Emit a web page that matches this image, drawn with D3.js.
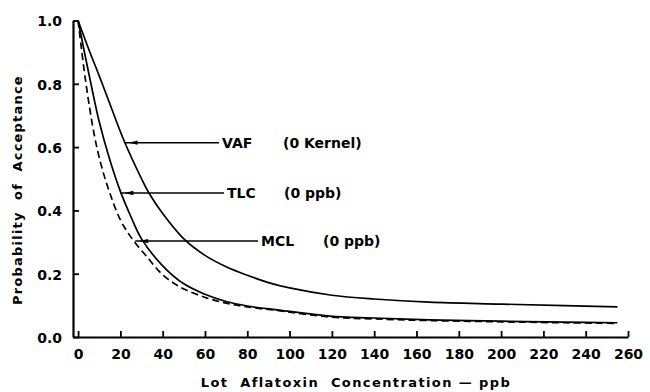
<!DOCTYPE html>
<html>
<head>
<meta charset="utf-8">
<script src="https://cdn.jsdelivr.net/npm/d3@7"></script>
<style>
  body { margin: 0; background: #fff; }
  svg text { font-family: "DejaVu Sans", sans-serif; font-weight: bold; fill: #000; white-space: pre; }
</style>
</head>
<body>
<div id="chart"></div>
<script>
// values (x = ppb, y = probability of acceptance)
const vafX = [0, 5, 10, 15, 22, 30, 33.5, 40, 50, 60, 70, 80, 90, 100, 120, 140, 166, 200, 230, 255];
const vafY = [1.0, 0.91, 0.825, 0.737, 0.616, 0.5, 0.455, 0.39, 0.31, 0.258, 0.222, 0.195, 0.172, 0.155, 0.132, 0.12, 0.11, 0.104, 0.099, 0.095];

const tlcX = [0, 5, 10, 15, 20, 25, 30, 40, 50, 60, 70, 80, 95, 119, 140, 166, 200, 230, 255];
const tlcY = [1.0, 0.835, 0.68, 0.56, 0.46, 0.38, 0.31, 0.225, 0.168, 0.135, 0.112, 0.098, 0.085, 0.066, 0.06, 0.054, 0.05, 0.047, 0.045];

const mclX = [0, 3.5, 7.9, 11.3, 15, 20, 26, 33, 38, 43.5, 50, 61, 70, 80, 95, 119, 140, 166, 200, 230, 255];
const mclY = [1.0, 0.812, 0.63, 0.534, 0.455, 0.37, 0.306, 0.25, 0.21, 0.178, 0.152, 0.123, 0.107, 0.095, 0.083, 0.063, 0.057, 0.052, 0.048, 0.045, 0.043];

const xTicks = d3.range(0, 261, 20);
const yTicks = [0, 0.2, 0.4, 0.6, 0.8, 1.0];

// label callouts: where the arrow touches the curve (data coords) and the text
const callouts = [
  { name: 'VAF', note: '(0 Kernel)', x: 22, y: 0.614, lineEnd: 219, noteX: 283 },
  { name: 'TLC', note: '(0 ppb)', x: 20, y: 0.455, lineEnd: 224, noteX: 284 },
  { name: 'MCL', note: '(0 ppb)', x: 27, y: 0.303, lineEnd: 258, noteX: 323 }
];

const width = 650, height = 392;

const svg = d3.select('#chart').append('svg')
  .attr('width', width)
  .attr('height', height);

const x = d3.scaleLinear().domain([-2.4, 260]).range([73, 628]);
const y = d3.scaleLinear().domain([0, 1]).range([337, 20.5]);

// axes, ticks point inward
const yAxis = d3.axisLeft(y)
  .tickValues(yTicks)
  .tickFormat(d3.format('.1f'))
  .tickSizeInner(-6)
  .tickSizeOuter(0)
  .tickPadding(11);

const xAxis = d3.axisBottom(x)
  .tickValues(xTicks)
  .tickFormat(d3.format('d'))
  .tickSizeInner(-6)
  .tickSizeOuter(0)
  .tickPadding(15);

const gx = svg.append('g')
  .attr('transform', `translate(0,${y(0)})`)
  .call(xAxis);

const gy = svg.append('g')
  .attr('transform', `translate(${x.range()[0]},0)`)
  .call(yAxis);

[gx, gy].forEach(g => {
  g.select('.domain').attr('stroke', '#000').attr('stroke-width', 2.2);
  g.selectAll('.tick line').attr('stroke', '#000').attr('stroke-width', 1.8);
  g.selectAll('.tick text')
    .attr('font-size', 14)
    .attr('font-family', '"DejaVu Sans", sans-serif')
    .attr('font-weight', 'bold')
    .attr('fill', '#000');
});
gy.selectAll('.tick text').attr('dy', '0.38em');
gx.selectAll('.tick text').attr('dy', '0.5em');

// curves
const line = d3.line()
  .x(d => x(d[0]))
  .y(d => y(d[1]))
  .curve(d3.curveCatmullRom.alpha(0.5));

const series = [
  { xs: vafX, ys: vafY, dash: null },
  { xs: tlcX, ys: tlcY, dash: null },
  { xs: mclX, ys: mclY, dash: '7,4' }
];

svg.append('g')
  .selectAll('path')
  .data(series)
  .join('path')
  .attr('d', s => line(s.xs.map((v, i) => [v, s.ys[i]])))
  .attr('fill', 'none')
  .attr('stroke', '#000')
  .attr('stroke-width', 1.7)
  .attr('stroke-dasharray', s => s.dash);

// callout lines, arrowheads and labels
const co = svg.append('g')
  .selectAll('g')
  .data(callouts)
  .join('g');

co.append('line')
  .attr('x1', d => x(d.x))
  .attr('x2', d => d.lineEnd)
  .attr('y1', d => y(d.y))
  .attr('y2', d => y(d.y))
  .attr('stroke', '#000')
  .attr('stroke-width', 1.5);

co.append('path')
  .attr('d', d => {
    const tx = x(d.x) + 4, ty = y(d.y);
    return `M${tx},${ty}L${tx + 9},${ty - 2.2}L${tx + 9},${ty + 2.2}Z`;
  })
  .attr('fill', '#000');

co.append('text')
  .attr('x', d => d.lineEnd + 3)
  .attr('y', d => y(d.y))
  .attr('dy', '0.36em')
  .attr('font-size', 14)
  .text(d => d.name);

co.append('text')
  .attr('x', d => d.noteX)
  .attr('y', d => y(d.y))
  .attr('dy', '0.36em')
  .attr('font-size', 14)
  .text(d => d.note);

// axis titles
svg.append('text')
  .attr('x', 356)
  .attr('y', 382)
  .attr('dy', '0.36em')
  .attr('text-anchor', 'middle')
  .attr('font-size', 13)
  .attr('letter-spacing', 1.4)
  .text('Lot  Aflatoxin  Concentration — ppb');

svg.append('text')
  .attr('transform', 'translate(17,190) rotate(-90)')
  .attr('text-anchor', 'middle')
  .attr('dy', '0.36em')
  .attr('font-size', 13)
  .attr('letter-spacing', 1.2)
  .text('Probability  of  Acceptance');
</script>
</body>
</html>
